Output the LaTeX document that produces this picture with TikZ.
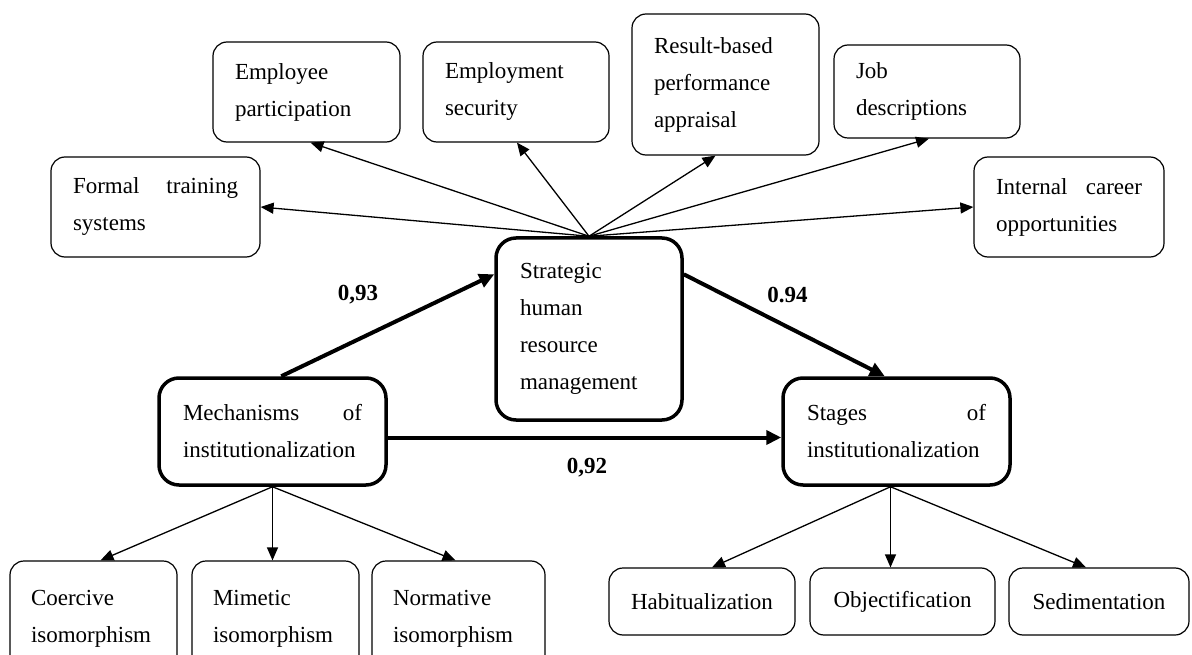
\documentclass[tikz,border=0pt]{standalone}
\usepackage{fontspec}
\setmainfont{Liberation Serif}
\usetikzlibrary{arrows.meta}

\tikzset{
  every node/.style={font=\fontsize{23pt}{37pt}\selectfont},
  item/.style={draw, line width=1.2pt, rounded corners=14pt, inner xsep=22pt, inner ysep=0pt, align=left},
  construct/.style={draw, line width=3.5pt, rounded corners=20pt, inner xsep=24pt, inner ysep=0pt, align=left},
  link/.style={line width=1.3pt, -{Triangle[length=13pt,width=11pt]}},
  pathcoef/.style={line width=4pt, -{Triangle[length=15pt,width=14pt]}},
  coef/.style={font=\bfseries\fontsize{23pt}{37pt}\selectfont},
}

\begin{document}
\begin{tikzpicture}[x=1pt,y=-1pt]
    % Canvas (bottom row is cut by the lower edge)
    \useasboundingbox (0,0) rectangle (1192,655);
    \clip (0,0) rectangle (1192,655);

    % Main constructs
    \node[construct, text width=138pt, minimum height=182pt] (shrm) at (589,329) {Strategic\\human\\resource\\management};
    \node[construct, text width=179pt, minimum height=107pt] (mech) at (272.5,431.5) {Mechanisms\hfill of\\institutionalization};
    \node[construct, text width=179pt, minimum height=107pt] (stages) at (896.5,431.5) {Stages\hfill of\\institutionalization};

    % HRM practices
    \node[item, text width=165pt, minimum height=100pt] (formal) at (155.5,207) {Formal\hfill training\\systems};
    \node[item, text width=143pt, minimum height=100pt] (participation) at (306.5,92) {Employee\\participation};
    \node[item, text width=142pt, minimum height=100pt] (security) at (516,92) {Employment\\security};
    \node[item, text width=143pt, minimum height=141pt] (appraisal) at (725.5,84.5) {Result-based\\performance\\appraisal};
    \node[item, text width=142pt, minimum height=93pt] (jobs) at (927,91.5) {Job\\descriptions};
    \node[item, text width=146pt, minimum height=100pt] (career) at (1069,207) {Internal\hfill career\\opportunities};

    % Isomorphism types
    \node[item, inner xsep=21pt, text width=125pt, minimum height=115pt] (coercive) at (93.5,618.5) {Coercive\\isomorphism};
    \node[item, inner xsep=21pt, text width=125pt, minimum height=115pt] (mimetic) at (275.5,618.5) {Mimetic\\isomorphism};
    \node[item, inner xsep=21pt, text width=131pt, minimum height=115pt] (normative) at (458.5,618.5) {Normative\\isomorphism};

    % Institutionalization stages
    \node[item, inner xsep=10pt, minimum width=186pt, minimum height=67pt] (habit) at (702,601.5) {Habitualization};
    \node[item, inner xsep=10pt, minimum width=185pt, minimum height=67pt] (objectif) at (902.5,601.5) {Objectification};
    \node[item, inner xsep=10pt, minimum width=180pt, minimum height=67pt] (sediment) at (1099,601.5) {Sedimentation};

    % Fan of arrows from SHRM to its practices
    \foreach \target/\side/\dx in {formal/east/0, participation/south/4, security/south/1, appraisal/south/-10, jobs/south/2, career/west/0} {
        \draw[link] (shrm.north) -- ([xshift=\dx pt]\target.\side);
    }

    % Structural paths
    \draw[pathcoef] (mech.81) -- (shrm.150);
    \draw[pathcoef] (shrm.30) -- (stages.102);
    \draw[pathcoef] ([yshift=-6pt]mech.east) -- ([yshift=-6pt]stages.west);

    % Path coefficients
    \node[coef] (coefa) at (358,295) {0,93};
    \node[coef] (coefb) at (787.5,295) {0.94};
    \node[coef] (coefc) at (587,468) {0,92};

    % Mechanisms down to isomorphism types
    \foreach \target/\dx in {coercive/7, normative/-3} {
        \draw[link] (mech.south) -- ([xshift=\dx pt]\target.north);
    }
    \draw[link] (mech.south) -- (mech.south |- mimetic.north);

    % Stages down to each stage
    \coordinate (stagesfoot) at ([xshift=-6pt]stages.south);
    \foreach \target/\dx in {habit/10, sediment/-13} {
        \draw[link] (stagesfoot) -- ([xshift=\dx pt]\target.north);
    }
    \draw[link] (stagesfoot) -- (stagesfoot |- objectif.north);
\end{tikzpicture}
\end{document}
